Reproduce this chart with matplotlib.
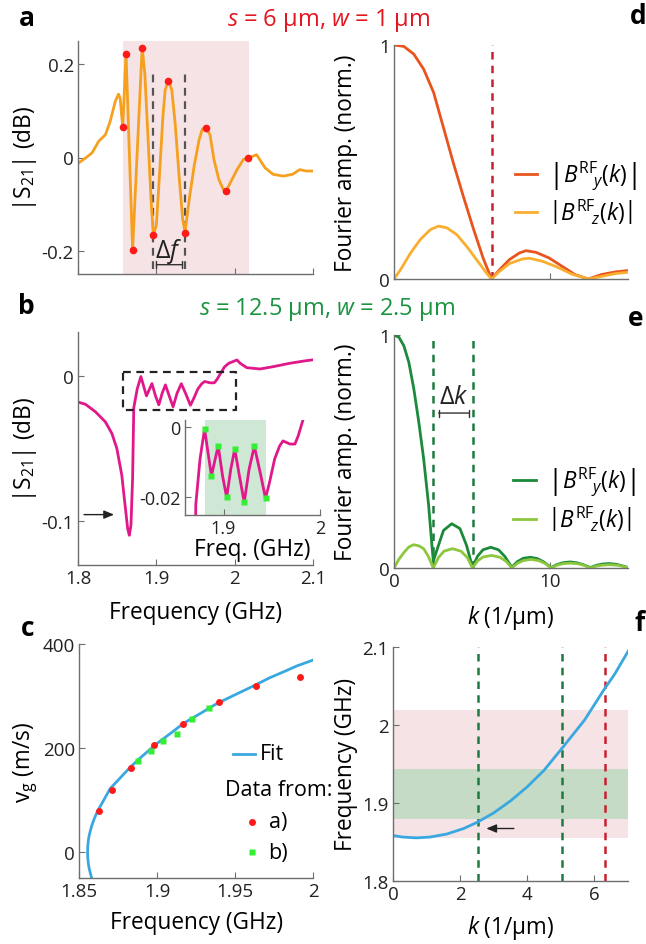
import matplotlib.pyplot as plt

plt.rcParams['font.family'] = ['Open Sans', 'DejaVu Sans']
plt.rcParams['mathtext.fontset'] = 'custom'
plt.rcParams['mathtext.rm'] = 'Open Sans'
plt.rcParams['mathtext.it'] = 'Open Sans:italic'
plt.rcParams['mathtext.bf'] = 'Open Sans:bold'
plt.rcParams['axes.unicode_minus'] = False

# ---- panel a: |S21| for s=6um, w=1um
a_freq = [1.8013, 1.8097, 1.818, 1.8265, 1.835, 1.841, 1.8475, 1.8517, 1.8538, 1.8571,
          1.8613, 1.8697, 1.8819, 1.8853, 1.8895, 1.8937, 1.8962, 1.9000, 1.9042, 1.9084,
          1.9113, 1.9155, 1.9197, 1.924, 1.9294, 1.9336, 1.9366, 1.942, 1.9483, 1.9546,
          1.9588, 1.963, 1.9685, 1.9735, 1.9798, 1.9853, 1.989, 1.9945, 2.003, 2.0113,
          2.0176, 2.028, 2.0387, 2.049, 2.062, 2.074, 2.083, 2.091, 2.099]
a_s21 = [-0.011, -0.001, 0.010, 0.035, 0.049, 0.077, 0.120, 0.136, 0.127, 0.065,
         0.223, -0.198, 0.236, 0.180, 0.038, -0.104, -0.166, -0.146, -0.033, 0.088,
         0.145, 0.165, 0.145, 0.074, -0.047, -0.132, -0.161, -0.090, -0.018, 0.038,
         0.061, 0.064, 0.049, -0.004, -0.047, -0.068, -0.072, -0.054, -0.026, -0.004,
         -0.001, 0.006, -0.022, -0.036, -0.040, -0.036, -0.026, -0.029, -0.029]
a_ext_f = [1.8571, 1.8613, 1.8697, 1.8819, 1.8962, 1.9155, 1.9366, 1.963, 1.989, 2.0176]
a_ext_s = [0.065, 0.223, -0.198, 0.236, -0.166, 0.165, -0.161, 0.064, -0.072, -0.001]
a_band = [1.8571, 2.0185]
a_df = [1.8962, 1.937]

# ---- panel b: |S21| for s=12.5um, w=2.5um
b_freq = [1.8013, 1.8097, 1.8223, 1.8349, 1.8433, 1.8496, 1.8559, 1.8601, 1.8634, 1.8655,
          1.8676, 1.8697, 1.8712, 1.8756, 1.8803, 1.8838, 1.8874, 1.8944, 1.8990, 1.9032,
          1.9075, 1.9116, 1.9165, 1.9214, 1.9265, 1.9319, 1.9380, 1.9435, 1.9477, 1.9530,
          1.9582, 1.9617, 1.9688, 1.9740, 1.9775, 1.9821, 1.9870, 1.9924, 2.0029, 2.0071,
          2.0155, 2.0324, 2.0492, 2.0702, 2.0912, 2.0987]
b_s21 = [-0.0183, -0.0197, -0.0248, -0.0317, -0.0397, -0.0500, -0.0683, -0.0890, -0.1050, -0.1096,
         -0.1028, -0.0706, -0.0220, -0.0091, -0.0006, -0.0072, -0.0139, -0.0054, -0.0140, -0.0200,
         -0.0120, -0.0063, -0.0140, -0.0214, -0.0120, -0.0055, -0.0130, -0.0203, -0.0157, -0.0091,
         -0.0054, -0.0040, -0.0049, -0.0049, -0.0025, 0.0017, 0.0060, 0.0085, 0.0108, 0.0085,
         0.0055, 0.0046, 0.0062, 0.0085, 0.0103, 0.0108]
b_ext_f = [1.8803, 1.8874, 1.8944, 1.9032, 1.9116, 1.9214, 1.9319, 1.9435]
b_ext_s = [-0.0006, -0.0139, -0.0054, -0.0200, -0.0063, -0.0214, -0.0055, -0.0203]
b_band = [1.8803, 1.9435]

# ---- panel c: group velocity
c_fit_v = [-50, -40, -30, -20, -10, 0, 10, 20, 30, 40, 50, 65, 80, 100, 122, 145, 163,
           185, 208, 230, 247, 265, 285, 300, 319, 335, 346, 358, 369]
c_fit_f = [1.8581, 1.8572, 1.8564, 1.8559, 1.8556, 1.8555, 1.8556, 1.8559, 1.8564, 1.8572,
           1.8581, 1.8599, 1.8621, 1.8659, 1.8700, 1.8772, 1.8828, 1.8908, 1.8997, 1.9095,
           1.9168, 1.9270, 1.9381, 1.9484, 1.9616, 1.9722, 1.9808, 1.9898, 2.0]
c_a_f = [1.8628, 1.8713, 1.8831, 1.8982, 1.9168, 1.9396, 1.9637, 1.9919]
c_a_v = [78, 120, 162, 205, 247, 288, 319, 337]
c_b_f = [1.888, 1.8961, 1.9036, 1.913, 1.9225, 1.9332]
c_b_v = [175, 194, 213, 226, 256, 276]

# ---- panel d: Fourier amplitudes, s=6um
d_ky = [0, 0.63, 1.27, 1.9, 2.54, 3.17, 3.8, 4.44, 5.07, 5.71, 6.25, 6.77, 7.4, 8.03,
        8.46, 9.1, 9.94, 10.78, 11.6, 12.45, 13.3, 14.16, 15.0]
d_by = [1.0, 0.994, 0.961, 0.897, 0.797, 0.647, 0.497, 0.354, 0.219, 0.09, 0.0, 0.04, 0.083,
        0.111, 0.121, 0.114, 0.09, 0.054, 0.019, 0.0, 0.019, 0.03, 0.036]
d_kz = [0, 0.42, 1.06, 1.69, 2.33, 2.85, 3.38, 4.02, 4.65, 5.29, 5.92, 6.25, 6.77, 7.4,
        8.25, 8.67, 9.5, 10.36, 11.4, 12.45, 13.3, 14.16, 15.0]
d_bz = [0, 0.04, 0.111, 0.169, 0.211, 0.226, 0.219, 0.19, 0.14, 0.083, 0.026, 0.0, 0.033,
        0.066, 0.086, 0.089, 0.076, 0.054, 0.021, 0.0, 0.011, 0.023, 0.029]
d_kline = 6.28

# ---- panel e: Fourier amplitudes, s=12.5um
e_ky = [0, 0.32, 0.63, 0.95, 1.27, 1.59, 1.9, 2.22, 2.43, 2.52, 2.85, 3.17, 3.7, 4.23, 4.65,
        5.03, 5.35, 5.7, 6.2, 6.7, 7.1, 7.55, 7.9, 8.3, 8.75, 9.2, 9.6, 10.07, 10.45, 10.85,
        11.3, 11.75, 12.15, 12.58, 12.95, 13.35, 13.8, 14.25, 14.65, 15.0]
e_by = [1.0, 0.99, 0.954, 0.883, 0.769, 0.626, 0.469, 0.269, 0.097, 0.03, 0.097, 0.161, 0.19,
        0.169, 0.097, 0.004, 0.05, 0.078, 0.089, 0.078, 0.05, 0.003, 0.027, 0.042, 0.046,
        0.04, 0.026, 0.002, 0.015, 0.023, 0.026, 0.022, 0.014, 0.002, 0.011, 0.017, 0.019,
        0.016, 0.009, 0.002]
e_kz = [0, 0.3, 0.63, 0.95, 1.25, 1.6, 1.9, 2.2, 2.52, 2.85, 3.2, 3.75, 4.3, 4.7, 5.03,
        5.35, 5.7, 6.25, 6.8, 7.2, 7.55, 7.9, 8.3, 8.8, 9.3, 9.7, 10.07, 10.45, 10.85, 11.3,
        11.8, 12.2, 12.58, 12.95, 13.35, 13.8, 14.3, 14.7, 15.0]
e_bz = [0, 0.036, 0.066, 0.09, 0.1, 0.095, 0.083, 0.05, 0.0, 0.045, 0.072, 0.083, 0.072,
        0.045, 0.0, 0.03, 0.047, 0.054, 0.046, 0.028, 0.0, 0.02, 0.032, 0.037, 0.031, 0.019,
        0.0, 0.012, 0.019, 0.021, 0.018, 0.011, 0.0, 0.008, 0.012, 0.014, 0.012, 0.007, 0.001]
e_klines = [2.52, 5.04]

# ---- panel f: dispersion
f_k = [0, 0.3, 0.7, 1.1, 1.6, 2.1, 2.52, 3.0, 3.5, 4.0, 4.5, 5.05, 5.7, 6.31, 6.6, 7.05]
f_f = [1.8582, 1.8563, 1.8553, 1.8563, 1.8602, 1.8672, 1.8755, 1.8873, 1.9027, 1.9208,
       1.9420, 1.9710, 2.0060, 2.0470, 2.0650, 2.0979]
f_pink = [1.855, 2.019]
f_green = [1.880, 1.9436]

RED_T = '#e3161f'
GREEN_T = '#1a9441'
ORANGE = '#f5a01e'
MAGENTA = '#e0188a'
DOT_RED = '#ff1a1a'
DOT_GREEN = '#33ee33'
BLUE = '#3aa8e0'
PINK = '#f6e3e5'
SPINE = '#6e6e6e'
LAB = 16.3
TCK = 13.5


def box(l, t, r, b):
    return [l / 646, 1 - b / 945, (r - l) / 646, (b - t) / 945]


def style(ax, size=TCK):
    for side in ['top', 'right']:
        ax.spines[side].set_visible(False)
    for side in ['left', 'bottom']:
        ax.spines[side].set_color(SPINE)
        ax.spines[side].set_linewidth(1.0)
    ax.tick_params(direction='in', length=4, width=0.8, color=SPINE,
                   labelsize=size, labelcolor='#222222', pad=3)


fig = plt.figure(figsize=(6.46, 9.45), dpi=100)

# a
ax = fig.add_axes(box(78, 42, 313, 275))
style(ax)
ax.axvspan(a_band[0], a_band[1], color=PINK, lw=0)
for x in a_df:
    ax.plot([x, x], [-0.239, 0.18], ls=(0, (3.5, 2.5)), color='#555555', lw=1.6)
ax.plot(a_freq, a_s21, color=ORANGE, lw=2)
ax.plot(a_ext_f, a_ext_s, 'o', color=DOT_RED, ms=5.5, mec='none')
ax.annotate('', xy=(1.9, -0.23), xytext=(1.9324, -0.23),
            arrowprops=dict(arrowstyle='|-|,widthA=0.25,widthB=0.25', lw=1, color='#333333',
                            shrinkA=0, shrinkB=0))
ax.text(1.916, -0.2, 'Δ$f$', ha='center', va='center', fontsize=18, color='#222222')
ax.set_xlim(1.8, 2.1)
ax.set_ylim(-0.25, 0.25)
ax.set_xticks([1.8, 1.9, 2.0, 2.1])
ax.set_xticklabels([])
ax.set_yticks([-0.2, 0, 0.2])
ax.set_yticklabels(['-0.2', '0', '0.2'])
ax.set_ylabel(r'|S$_{\mathregular{21}}$| (dB)', fontsize=LAB)
ax.yaxis.set_label_coords(-0.165, 0.5)

# b
ax = fig.add_axes(box(78, 333, 313, 566))
style(ax)
ax.plot(b_freq, b_s21, color=MAGENTA, lw=2)
ax.plot([1.858, 2.0017, 2.0017, 1.858, 1.858], [0.0028, 0.0028, -0.0239, -0.0239, 0.0028],
        ls=(0, (3.5, 2.5)), color='#222222', lw=1.6)
ax.annotate('', xy=(1.846, -0.0954), xytext=(1.8077, -0.0954),
            arrowprops=dict(arrowstyle='-|>,head_width=0.25,head_length=0.6', lw=1, color='#222222',
                            shrinkA=0, shrinkB=0))
ax.set_xlim(1.8, 2.1)
ax.set_ylim(-0.13, 0.03)
ax.set_xticks([1.8, 1.9, 2.0, 2.1])
ax.set_xticklabels(['1.8', '1.9', '2', '2.1'])
ax.set_yticks([-0.1, 0])
ax.set_yticklabels(['-0.1', '0'])
ax.set_ylabel(r'|S$_{\mathregular{21}}$| (dB)', fontsize=LAB)
ax.yaxis.set_label_coords(-0.165, 0.5)
ax.set_xlabel('Frequency (GHz)', fontsize=LAB)
ax.xaxis.set_label_coords(0.5, -0.15)

# b inset
ins = fig.add_axes(box(185, 420.7, 320, 516))
style(ins, 13)
ins.patch.set_alpha(0)
ins.axvspan(b_band[0], b_band[1], color='#cfe8d6', lw=0)
ins.plot(b_freq, b_s21, color=MAGENTA, lw=2)
ins.plot(b_ext_f, b_ext_s, 's', color=DOT_GREEN, ms=4.5, mec='none')
ins.set_xlim(1.86, 2.0)
ins.set_ylim(-0.025, 0.002)
ins.set_xticks([1.9, 2.0])
ins.set_xticklabels(['1.9', '2'])
ins.set_yticks([-0.02, 0])
ins.set_yticklabels(['-0.02', '0'])
ins.set_xlabel('Freq. (GHz)', fontsize=LAB, labelpad=0)

# c
ax = fig.add_axes(box(79, 645, 313, 879))
style(ax)
ax.plot(c_fit_f, c_fit_v, color=BLUE, lw=2)
ax.plot(c_a_f, c_a_v, 'o', color=DOT_RED, ms=5, mec='none')
ax.plot(c_b_f, c_b_v, 's', color=DOT_GREEN, ms=4.5, mec='none')
ax.set_xlim(1.85, 2.0)
ax.set_ylim(-50, 400)
ax.set_xticks([1.85, 1.9, 1.95, 2.0])
ax.set_xticklabels(['1.85', '1.9', '1.95', '2'])
ax.set_yticks([0, 200, 400])
ax.set_ylabel(r'v$_{\mathregular{g}}$ (m/s)', fontsize=LAB)
ax.yaxis.set_label_coords(-0.165, 0.5)
ax.set_xlabel('Frequency (GHz)', fontsize=LAB)
ax.xaxis.set_label_coords(0.5, -0.135)
tr = ax.transAxes
LEG = 15.5
ax.plot([0.658, 0.752], [0.53, 0.53], color=BLUE, lw=2, transform=tr)
ax.text(0.772, 0.53, 'Fit', transform=tr, fontsize=LEG, va='center')
ax.text(0.625, 0.38, 'Data from:', transform=tr, fontsize=LEG, va='center')
ax.plot([0.739], [0.24], 'o', color=DOT_RED, ms=5, mec='none', transform=tr)
ax.text(0.81, 0.24, 'a)', transform=tr, fontsize=LEG, va='center')
ax.plot([0.739], [0.111], 's', color=DOT_GREEN, ms=4.5, mec='none', transform=tr)
ax.text(0.81, 0.111, 'b)', transform=tr, fontsize=LEG, va='center')

lab_y = r'$\left|B^{\mathrm{RF}}\!{}_{y}(k)\right|$'
lab_z = r'$\left|B^{\mathrm{RF}}\!{}_{z}(k)\right|$'

# d
ax = fig.add_axes(box(394, 46, 628, 280))
style(ax)
ax.plot([d_kline, d_kline], [0, 1], ls=(0, (3, 2.5)), color='#c8202f', lw=1.8)
ax.plot(d_ky, d_by, color='#e9541e', lw=2, label=lab_y)
ax.plot(d_kz, d_bz, color='#f9ae2f', lw=2, label=lab_z)
ax.set_xlim(0, 15)
ax.set_ylim(0, 1)
ax.set_xticks([0, 10])
ax.set_xticklabels([])
ax.set_yticks([0, 1])
ax.set_yticklabels(['0', '1'])
ax.set_ylabel('Fourier amp. (norm.)', fontsize=LAB)
ax.yaxis.set_label_coords(-0.155, 0.5)
ax.legend(loc='center left', bbox_to_anchor=(0.515, 0.37), frameon=False, fontsize=LAB,
          handlelength=1.0, handletextpad=0.5, labelspacing=0.25, borderpad=0, borderaxespad=0)

# e
ax = fig.add_axes(box(394, 336, 628, 569))
style(ax)
for x in e_klines:
    ax.plot([x, x], [0, 1], ls=(0, (3, 2.5)), color='#1d7a40', lw=1.8)
ax.plot(e_ky, e_by, color='#1b8a3a', lw=2, label=lab_y)
ax.plot(e_kz, e_bz, color='#8dc63f', lw=2, label=lab_z)
ax.annotate('', xy=(2.86, 0.665), xytext=(4.79, 0.665),
            arrowprops=dict(arrowstyle='|-|,widthA=0.25,widthB=0.25', lw=1, color='#333333',
                            shrinkA=0, shrinkB=0))
ax.text(3.8, 0.735, 'Δ$k$', ha='center', va='center', fontsize=18, color='#222222')
ax.set_xlim(0, 15)
ax.set_ylim(0, 1)
ax.set_xticks([0, 10])
ax.set_yticks([0, 1])
ax.set_yticklabels(['0', '1'])
ax.set_ylabel('Fourier amp. (norm.)', fontsize=LAB)
ax.yaxis.set_label_coords(-0.155, 0.5)
ax.set_xlabel(r'$k$ (1/μm)', fontsize=LAB)
ax.xaxis.set_label_coords(0.5, -0.15)
ax.legend(loc='center left', bbox_to_anchor=(0.51, 0.297), frameon=False, fontsize=LAB,
          handlelength=1.0, handletextpad=0.5, labelspacing=0.25, borderpad=0, borderaxespad=0)

# f
ax = fig.add_axes(box(393, 648, 628, 882))
style(ax)
ax.axhspan(f_pink[0], f_pink[1], color=PINK, lw=0)
ax.axhspan(f_green[0], f_green[1], color='#c5dbc5', lw=0)
for x in e_klines:
    ax.plot([x, x], [1.8, 2.1], ls=(0, (3, 2.5)), color='#1d7a40', lw=1.8)
ax.plot([6.31, 6.31], [1.8, 2.1], ls=(0, (3, 2.5)), color='#c8202f', lw=1.8)
ax.plot(f_k, f_f, color=BLUE, lw=2)
ax.annotate('', xy=(2.78, 1.8673), xytext=(3.6, 1.8673),
            arrowprops=dict(arrowstyle='-|>,head_width=0.25,head_length=0.6', lw=1, color='#222222',
                            shrinkA=0, shrinkB=0))
ax.set_xlim(0, 7)
ax.set_ylim(1.8, 2.1)
ax.set_xticks([0, 2, 4, 6])
ax.set_yticks([1.8, 1.9, 2.0, 2.1])
ax.set_yticklabels(['1.8', '1.9', '2', '2.1'])
ax.set_ylabel('Frequency (GHz)', fontsize=LAB)
ax.yaxis.set_label_coords(-0.15, 0.5)
ax.set_xlabel(r'$k$ (1/μm)', fontsize=LAB)
ax.xaxis.set_label_coords(0.5, -0.135)

# titles and panel letters
fig.text(0.509, 0.978, r'$s$ = 6 μm, $w$ = 1 μm', color=RED_T, ha='center', va='center', fontsize=17)
fig.text(0.507, 0.673, r'$s$ = 12.5 μm, $w$ = 2.5 μm', color=GREEN_T, ha='center', va='center',
         fontsize=17)
for letter, x, y in [('a', 27, 18), ('b', 26, 307), ('c', 28, 629),
                     ('d', 638, 16), ('e', 636, 318), ('f', 640, 624)]:
    fig.text(x / 646, 1 - y / 945, letter, fontsize=19, fontweight='bold', ha='center', va='center')

fig.savefig('out.png', dpi=100)
